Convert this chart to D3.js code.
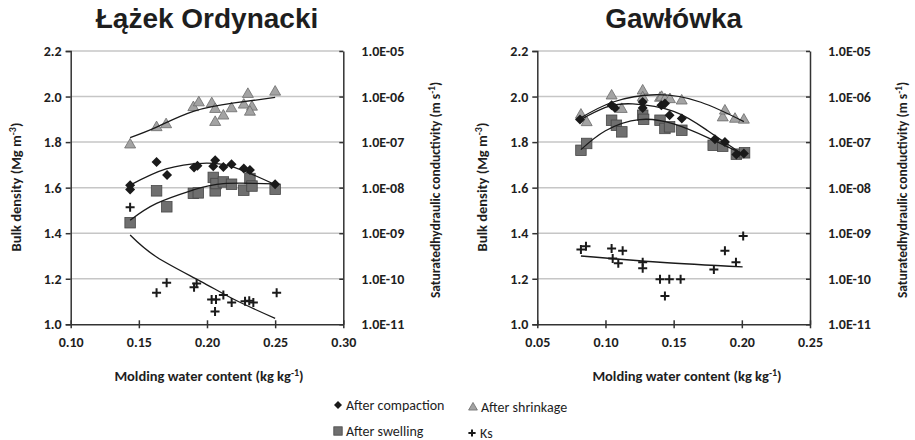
<!DOCTYPE html>
<html>
<head>
<meta charset="utf-8">
<script src="https://cdn.jsdelivr.net/npm/d3@7"></script>
<style>
  body { margin: 0; background: #fff; }
  svg { display: block; }
</style>
</head>
<body>
<div id="chart"></div>
<script>
// ---- data ----
// Łążek Ordynacki: [water content, bulk density] or [water content, Ks]
const lzCompaction = [[0.1436,1.611],[0.1436,1.592],[0.163,1.713],[0.1707,1.655],[0.1905,1.689],[0.193,1.696],[0.2046,1.694],[0.206,1.72],[0.212,1.691],[0.218,1.703],[0.227,1.684],[0.2315,1.677],[0.25,1.615]];
const lzSwelling = [[0.1436,1.446],[0.163,1.586],[0.1705,1.516],[0.19,1.575],[0.1936,1.577],[0.2046,1.645],[0.206,1.586],[0.2066,1.618],[0.212,1.625],[0.218,1.615],[0.227,1.589],[0.2315,1.64],[0.233,1.607],[0.25,1.593]];
const lzShrinkage = [[0.1436,1.791],[0.163,1.867],[0.17,1.88],[0.19,1.955],[0.194,1.976],[0.2035,1.972],[0.206,1.947],[0.206,1.89],[0.212,1.918],[0.218,1.95],[0.227,1.966],[0.23,2.013],[0.233,1.957],[0.2315,1.935],[0.25,2.023]];
const lzKs = [[0.1436,3.7e-9],[0.163,4.9e-11],[0.1704,8.2e-11],[0.1905,6.5e-11],[0.1924,7.9e-11],[0.2034,3.5e-11],[0.2066,3.5e-11],[0.2059,1.9e-11],[0.212,4.4e-11],[0.2181,3.0e-11],[0.2279,3.2e-11],[0.231,3.3e-11],[0.234,3.0e-11],[0.2511,4.9e-11]];
// trend lines, points
const lzCompactionTrend = [[0.1436,1.611],[0.17,1.682],[0.197,1.707],[0.22,1.689],[0.25,1.613]];
const lzSwellingTrend = [[0.1436,1.457],[0.163,1.531],[0.19,1.59],[0.212,1.618],[0.25,1.617]];
const lzShrinkageTrend = [[0.1436,1.82],[0.163,1.866],[0.19,1.935],[0.22,1.972],[0.25,1.996]];
const lzKsTrend = [[0.1436,9.1e-10],[0.163,3.0e-10],[0.195,8.9e-11],[0.22,3.5e-11],[0.25,1.35e-11]];

// Gawłówka
const gwCompaction = [[0.0813,1.899],[0.1045,1.962],[0.107,1.95],[0.1273,1.976],[0.1273,1.95],[0.141,1.962],[0.1436,1.969],[0.147,1.918],[0.156,1.904],[0.1803,1.813],[0.1876,1.80],[0.196,1.746],[0.2015,1.75]];
const gwSwelling = [[0.082,1.764],[0.0862,1.794],[0.1045,1.896],[0.108,1.874],[0.112,1.845],[0.1273,1.918],[0.128,1.90],[0.14,1.896],[0.1436,1.86],[0.147,1.867],[0.156,1.852],[0.179,1.786],[0.186,1.782],[0.196,1.747],[0.202,1.753]];
const gwShrinkage = [[0.082,1.922],[0.0862,1.889],[0.1045,2.006],[0.1119,1.947],[0.1273,2.028],[0.1273,1.998],[0.14,1.996],[0.1412,2.0],[0.1436,1.99],[0.1473,1.99],[0.1559,1.984],[0.186,1.91],[0.1876,1.94],[0.195,1.904],[0.2015,1.90]];
const gwKs = [[0.082,4.4e-10],[0.0857,5.2e-10],[0.1045,4.6e-10],[0.1053,2.8e-10],[0.1094,2.2e-10],[0.1126,4.1e-10],[0.1273,2.3e-10],[0.1273,1.7e-10],[0.14,9.8e-11],[0.1468,9.8e-11],[0.1436,4.2e-11],[0.1551,9.8e-11],[0.1795,1.6e-10],[0.1876,4.1e-10],[0.1957,2.3e-10],[0.201,8.7e-10]];
const gwCompactionTrend = [[0.081,1.896],[0.1,1.952],[0.12,1.968],[0.15,1.935],[0.175,1.85],[0.2015,1.743]];
const gwSwellingTrend = [[0.082,1.767],[0.1,1.85],[0.125,1.899],[0.15,1.88],[0.175,1.82],[0.2015,1.746]];
const gwShrinkageTrend = [[0.081,1.903],[0.105,1.975],[0.1375,2.008],[0.17,1.975],[0.2015,1.89]];
const gwKsTrend = [[0.082,3.16e-10],[0.14,2.3e-10],[0.2006,1.82e-10]];

// axis ticks and labels
const densityTicks = [1.0, 1.2, 1.4, 1.6, 1.8, 2.0, 2.2];
const ksTicks = [1e-11, 1e-10, 1e-9, 1e-8, 1e-7, 1e-6, 1e-5];
const ksTickLabels = ["1.0E-11", "1.0E-10", "1.0E-09", "1.0E-08", "1.0E-07", "1.0E-06", "1.0E-05"];
const lzWaterTicks = [0.10, 0.15, 0.20, 0.25, 0.30];
const gwWaterTicks = [0.05, 0.10, 0.15, 0.20, 0.25];
const legendItems = ["After compaction", "After shrinkage", "After swelling", "Ks"];

const W = 915, H = 440;
const font = "Carlito, Lato, 'Open Sans', sans-serif";
const ink = "#1e1e1e";

const svg = d3.select("#chart").append("svg")
  .attr("width", W).attr("height", H)
  .attr("viewBox", [0, 0, W, H]);

// marker styles
const styles = {
  compaction: {shape: "diamond", fill: "#1a1a1a", stroke: "#1a1a1a"},
  swelling: {shape: "square", fill: "#6f6f6f", stroke: "#474747"},
  shrinkage: {shape: "triangle", fill: "#a3a3a3", stroke: "#6b6b6b"},
  ks: {shape: "plus", fill: "none", stroke: "#1a1a1a"}
};

function marker(g, st, x, y, scale = 1) {
  if (st.shape === "diamond") {
    const r = 5 * scale;
    g.append("path").attr("d", `M${x},${y - r}L${x + r},${y}L${x},${y + r}L${x - r},${y}Z`)
      .attr("fill", st.fill);
  } else if (st.shape === "square") {
    const s = 10.5 * scale;
    g.append("rect").attr("x", x - s / 2).attr("y", y - s / 2).attr("width", s).attr("height", s)
      .attr("fill", st.fill).attr("stroke", st.stroke).attr("stroke-width", 0.8);
  } else if (st.shape === "triangle") {
    const s = 11 * scale, h = s * 0.87;
    g.append("path").attr("d", `M${x},${y - h * 0.6}L${x + s / 2},${y + h * 0.4}L${x - s / 2},${y + h * 0.4}Z`)
      .attr("fill", st.fill).attr("stroke", st.stroke).attr("stroke-width", 0.8);
  } else {
    const r = 4.5 * scale;
    g.append("path").attr("d", `M${x - r},${y}H${x + r}M${x},${y - r}V${y + r}`)
      .attr("stroke", st.stroke).attr("stroke-width", 2).attr("fill", "none");
  }
}

function drawPanel(cfg) {
  const g = svg.append("g");
  const x = d3.scaleLinear().domain(cfg.xDomain).range([cfg.left, cfg.right]);
  const y = d3.scaleLinear().domain([1.0, 2.2]).range([324.3, 51]);
  const yk = d3.scaleLog().domain([1e-11, 1e-5]).range([324.3, 51]);

  // title
  g.append("text")
    .attr("x", (cfg.left + cfg.right) / 2).attr("y", 28)
    .attr("text-anchor", "middle")
    .attr("font-family", "'Liberation Sans', Arial, sans-serif")
    .attr("font-weight", "bold").attr("font-size", 28).attr("fill", ink)
    .text(cfg.title);

  // horizontal grid lines
  g.append("g")
    .selectAll("line")
    .data(densityTicks.slice(1))
    .join("line")
    .attr("x1", cfg.left).attr("x2", cfg.right)
    .attr("y1", d => y(d)).attr("y2", d => y(d))
    .attr("stroke", "#c6c6c6").attr("stroke-width", 1.5);

  // left axis
  g.append("g")
    .attr("transform", `translate(${cfg.left},0)`)
    .call(d3.axisLeft(y).tickValues(densityTicks).tickFormat(d3.format(".1f")).tickSize(5).tickPadding(4))
    .call(a => a.select(".domain").attr("stroke", "#333").attr("stroke-width", 1.5))
    .call(a => a.selectAll(".tick line").attr("stroke", "#333").attr("stroke-width", 1.5))
    .call(a => a.selectAll("text").attr("font-family", font).attr("font-weight", "bold")
      .attr("font-size", 14).attr("fill", ink));

  // right axis (log Ks)
  g.append("g")
    .attr("transform", `translate(${cfg.right},0)`)
    .call(d3.axisRight(yk).tickValues(ksTicks).tickFormat((d, i) => ksTickLabels[i])
      .tickSizeInner(-4).tickSizeOuter(0).tickPadding(18))
    .call(a => a.select(".domain").attr("stroke", "#333").attr("stroke-width", 1.5))
    .call(a => a.selectAll(".tick line").attr("stroke", "#333").attr("stroke-width", 1.5))
    .call(a => a.selectAll("text").attr("font-family", font).attr("font-weight", "bold")
      .attr("font-size", 14).attr("fill", ink));

  // bottom axis
  g.append("g")
    .attr("transform", "translate(0,324.3)")
    .call(d3.axisBottom(x).tickValues(cfg.xTicks).tickFormat(d3.format(".2f")).tickSizeInner(4)
      .tickSizeOuter(0).tickPadding(9))
    .call(a => a.select(".domain").attr("stroke", "#333").attr("stroke-width", 1.5))
    .call(a => a.selectAll(".tick line").attr("y1", -4).attr("stroke", "#333").attr("stroke-width", 1.5))
    .call(a => a.selectAll("text").attr("font-family", font).attr("font-weight", "bold")
      .attr("font-size", 14).attr("fill", ink));

  // axis titles
  g.append("text")
    .attr("transform", `translate(${cfg.yTitleX},187) rotate(-90)`)
    .attr("text-anchor", "middle")
    .attr("font-family", font).attr("font-weight", "bold").attr("font-size", 14.5).attr("fill", ink)
    .html("Bulk density (Mg m<tspan dy='-5' font-size='10'>-3</tspan><tspan dy='5'>)</tspan>");
  g.append("text")
    .attr("transform", `translate(${cfg.kTitleX},190) rotate(-90)`)
    .attr("text-anchor", "middle")
    .attr("font-family", font).attr("font-weight", "bold").attr("font-size", 13.5).attr("fill", ink)
    .html("Saturatedhydraulic conductivity (m s<tspan dy='-5' font-size='9.5'>-1</tspan><tspan dy='5'>)</tspan>");
  g.append("text")
    .attr("x", cfg.xTitleX).attr("y", 381)
    .attr("text-anchor", "middle")
    .attr("font-family", font).attr("font-weight", "bold").attr("font-size", 14.5).attr("fill", ink)
    .html("Molding water content (kg kg<tspan dy='-5' font-size='10'>-1</tspan><tspan dy='5'>)</tspan>");

  // markers
  const pts = g.append("g");
  cfg.ks.forEach(d => marker(pts, styles.ks, x(d[0]), yk(d[1])));
  cfg.swelling.forEach(d => marker(pts, styles.swelling, x(d[0]), y(d[1])));
  cfg.shrinkage.forEach(d => marker(pts, styles.shrinkage, x(d[0]), y(d[1])));
  cfg.compaction.forEach(d => marker(pts, styles.compaction, x(d[0]), y(d[1])));

  // trend lines
  const line = d3.line().x(d => x(d[0])).y(d => y(d[1])).curve(d3.curveNatural);
  const lineK = d3.line().x(d => x(d[0])).y(d => yk(d[1])).curve(d3.curveNatural);
  [cfg.compactionTrend, cfg.swellingTrend, cfg.shrinkageTrend].forEach(t =>
    g.append("path").attr("d", line(t)).attr("fill", "none").attr("stroke", "#1a1a1a").attr("stroke-width", 1.3));
  g.append("path").attr("d", lineK(cfg.ksTrend)).attr("fill", "none").attr("stroke", "#1a1a1a").attr("stroke-width", 1.3);
}

drawPanel({
  title: "Łążek Ordynacki", xDomain: [0.10, 0.30], xTicks: lzWaterTicks,
  left: 70.7, right: 343.3, yTitleX: 21, kTitleX: 440, xTitleX: 209,
  compaction: lzCompaction, swelling: lzSwelling, shrinkage: lzShrinkage, ks: lzKs,
  compactionTrend: lzCompactionTrend, swellingTrend: lzSwellingTrend,
  shrinkageTrend: lzShrinkageTrend, ksTrend: lzKsTrend
});
drawPanel({
  title: "Gawłówka", xDomain: [0.05, 0.25], xTicks: gwWaterTicks,
  left: 537.3, right: 810, yTitleX: 487, kTitleX: 907, xTitleX: 687,
  compaction: gwCompaction, swelling: gwSwelling, shrinkage: gwShrinkage, ks: gwKs,
  compactionTrend: gwCompactionTrend, swellingTrend: gwSwellingTrend,
  shrinkageTrend: gwShrinkageTrend, ksTrend: gwKsTrend
});

// legend
const legendPos = [[338, 405], [473, 407], [338, 431], [472, 433]];
const legendStyles = [styles.compaction, styles.shrinkage, styles.swelling, styles.ks];
const lg = svg.append("g");
legendItems.forEach((name, i) => {
  const [lx, ly] = legendPos[i];
  marker(lg, legendStyles[i], lx, ly, 0.8);
  lg.append("text")
    .attr("x", lx + 8).attr("y", ly + 4.5)
    .attr("font-family", font).attr("font-size", 14).attr("fill", ink)
    .text(name);
});
</script>
</body>
</html>
